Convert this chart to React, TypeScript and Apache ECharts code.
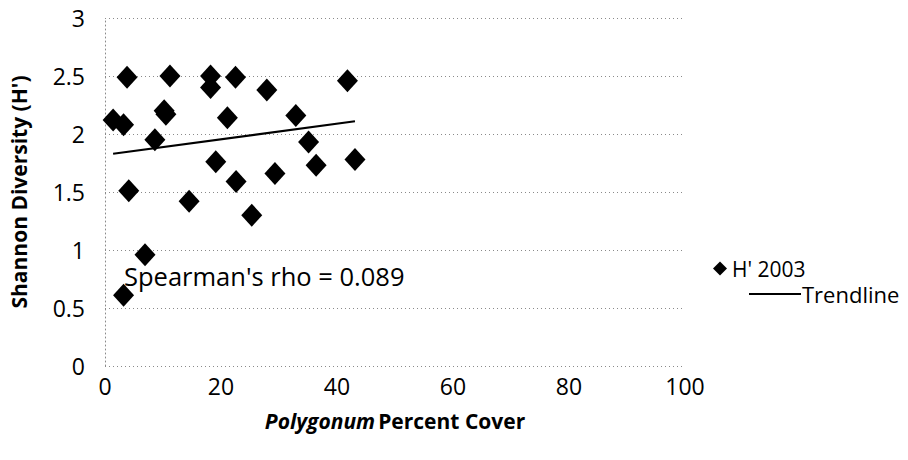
import React, { useEffect, useRef } from "react";
import * as echarts from "echarts";

const coverX: number[] = [1.4, 3.2, 3.8, 4.1, 3.2, 6.9, 8.6, 10.2, 10.5, 11.2, 14.5, 18.2, 18.2, 19.1, 21.1, 22.5, 22.6, 25.3, 27.9, 29.3, 32.9, 35.1, 36.4, 41.8, 43.1];
const diversityY: number[] = [2.12, 2.08, 2.49, 1.51, 0.61, 0.96, 1.95, 2.2, 2.17, 2.5, 1.42, 2.5, 2.4, 1.76, 2.14, 2.49, 1.59, 1.3, 2.38, 1.66, 2.16, 1.93, 1.73, 2.46, 1.78];
const trendX: number[] = [1.4, 43.1];
const trendY: number[] = [1.83, 2.11];
const seriesNames: string[] = ["H' 2003", "Trendline"];
const annotation = "Spearman's rho = 0.089";

const FONT = "'Open Sans', 'Noto Sans', sans-serif";

export default function App() {
  const ref = useRef<HTMLDivElement>(null);
  useEffect(() => {
    if (!ref.current) return;
    const chart = echarts.init(ref.current, null, { renderer: "svg" });
    const dotted = { color: "#8a8a8a", width: 1, type: [1, 3] as any };
    chart.setOption({
      animation: false,
      backgroundColor: "#ffffff",
      textStyle: { fontFamily: FONT, color: "#000" },
      grid: { left: 105, right: 223, top: 18, bottom: 94, containLabel: false },
      xAxis: {
        type: "value",
        min: 0,
        max: 100,
        interval: 20,
        name: "{i|Polygonum} {b|Percent Cover}",
        nameLocation: "middle",
        nameGap: 44,
        nameTextStyle: {
          rich: {
            i: { fontFamily: FONT, fontSize: 21, fontWeight: "bold", fontStyle: "italic", color: "#000" },
            b: { fontFamily: FONT, fontSize: 21, fontWeight: "bold", color: "#000" },
          },
        },
        axisLine: { show: false },
        axisTick: { show: false },
        splitLine: { show: false },
        axisLabel: { fontSize: 23, color: "#000", margin: 8, fontFamily: FONT },
      },
      yAxis: {
        type: "value",
        min: 0,
        max: 3,
        interval: 0.5,
        name: "Shannon Diversity (H')",
        nameLocation: "middle",
        nameRotate: 90,
        nameGap: 76,
        nameTextStyle: { fontSize: 21, fontWeight: "bold", color: "#000", fontFamily: FONT },
        axisLine: { show: true, lineStyle: dotted },
        axisTick: { show: false },
        splitLine: { show: true, lineStyle: dotted },
        axisLabel: { fontSize: 23, color: "#000", margin: 20, fontFamily: FONT },
      },
      legend: [
        {
          data: [{ name: seriesNames[0], icon: "diamond" }],
          left: 708,
          top: 253,
          itemWidth: 14,
          itemHeight: 14,
          itemGap: 10,
          textStyle: { fontSize: 21, color: "#000", fontFamily: FONT },
          selectedMode: false,
        },
        {
          data: [{ name: seriesNames[1], icon: "rect", itemStyle: { color: "#000" } }],
          left: 744,
          top: 278,
          itemWidth: 52,
          itemHeight: 2,
          itemGap: 4,
          textStyle: { fontSize: 22, color: "#000", fontFamily: FONT, padding: [0, 0, 0, -4] },
          selectedMode: false,
        },
      ],
      series: [
        {
          name: seriesNames[0],
          type: "scatter",
          symbol: "diamond",
          symbolSize: [21, 23],
          itemStyle: { color: "#000", opacity: 1 },
          data: coverX.map((x, i) => [x, diversityY[i]]),
          z: 3,
        },
        {
          name: seriesNames[1],
          type: "line",
          symbol: "none",
          lineStyle: { color: "#000", width: 2.2 },
          itemStyle: { color: "#000" },
          data: trendX.map((x, i) => [x, trendY[i]]),
          z: 2,
        },
      ],
      graphic: [
        {
          type: "text",
          left: 124,
          top: 263,
          style: { text: annotation, fontSize: 25.5, fill: "#000", fontFamily: FONT },
          z: 10,
        },
      ],
    });
    return () => chart.dispose();
  }, []);
  return <div ref={ref} style={{ position: "fixed", left: 0, top: 0, width: 908, height: 460 }} />;
}
